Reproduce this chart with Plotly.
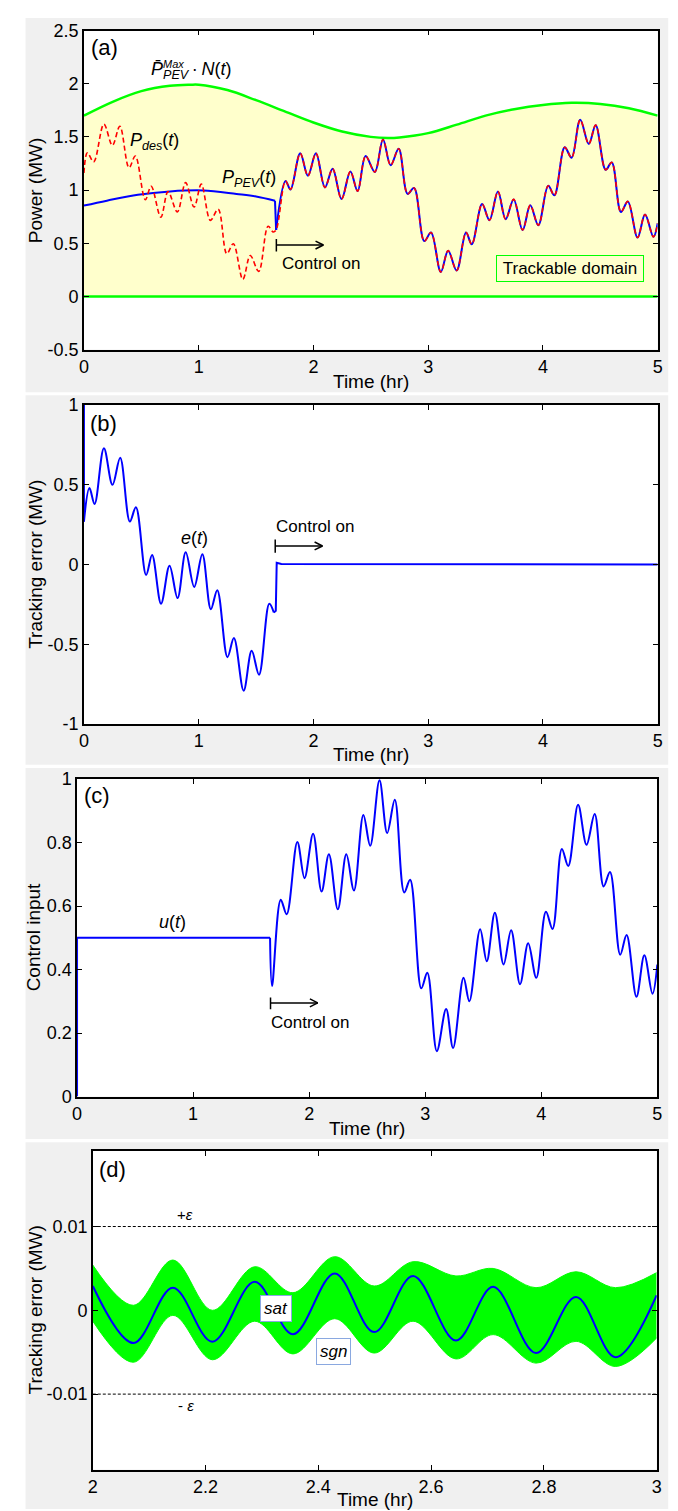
import plotly.graph_objects as go

W, H = 678, 1511
FONT = "Liberation Sans, Arial, sans-serif"

# ---------------- data ----------------
# panel (a)
t_upper = [0, 0.25, 0.5, 0.75, 0.93, 1.0, 1.25, 1.5, 1.75, 2.0, 2.25, 2.5, 2.65, 2.75,
           3.0, 3.25, 3.5, 3.75, 4.0, 4.25, 4.5, 4.75, 5.0]
p_upper = [1.70, 1.83, 1.93, 1.98, 1.99, 1.99, 1.94, 1.845, 1.74, 1.635, 1.55, 1.50, 1.49, 1.495,
           1.535, 1.615, 1.70, 1.76, 1.80, 1.82, 1.81, 1.77, 1.70]
t_zero = [0, 5]
p_zero = [0, 0]

t_pev_pre = [0, 0.2, 0.47, 0.75, 1.04, 1.33, 1.5, 1.665]
p_pev_pre = [0.854, 0.90, 0.956, 0.987, 0.996, 0.963, 0.94, 0.90]

t_des_pre = [0, 0.03, 0.085, 0.174, 0.248, 0.313, 0.393, 0.448, 0.535, 0.586, 0.67, 0.733,
             0.814, 0.886, 0.96, 1.023, 1.102, 1.17, 1.245, 1.302, 1.385, 1.45, 1.523, 1.605, 1.65]
p_des_pre = [1.16, 1.35, 1.265, 1.62, 1.42, 1.60, 1.21, 1.32, 0.91, 1.035, 0.745, 0.985,
             0.795, 1.07, 0.84, 1.056, 0.715, 0.82, 0.40, 0.495, 0.16, 0.385, 0.235, 0.66, 0.605]

t_track = [1.675, 1.757, 1.80, 1.885, 1.952, 2.022, 2.10, 2.167, 2.245, 2.322, 2.385, 2.455,
           2.535, 2.606, 2.673, 2.743, 2.821, 2.877, 2.966, 3.025, 3.11, 3.174, 3.248, 3.33,
           3.38, 3.47, 3.534, 3.608, 3.675, 3.745, 3.823, 3.89, 3.96, 4.046, 4.10, 4.19, 4.25,
           4.325, 4.40, 4.46, 4.547, 4.60, 4.68, 4.74, 4.825, 4.89, 4.963, 5.0]
p_track = [0.625, 1.085, 1.005, 1.345, 1.135, 1.345, 1.025, 1.20, 0.915, 1.175, 0.99, 1.32,
           1.17, 1.475, 1.233, 1.388, 0.964, 1.02, 0.52, 0.60, 0.23, 0.43, 0.243, 0.60,
           0.49, 0.868, 0.717, 0.986, 0.726, 0.912, 0.624, 0.856, 0.67, 1.04, 0.95, 1.403, 1.304,
           1.66, 1.434, 1.61, 1.19, 1.26, 0.794, 0.893, 0.553, 0.77, 0.56, 0.686]

# panel (b)
e_init_t = [0, 0]
e_init_v = [1.0, 0.27]
e_pre_t = [0.0, 0.048, 0.093, 0.174, 0.249, 0.316, 0.40, 0.453, 0.542, 0.594, 0.672, 0.746,
           0.816, 0.887, 0.961, 1.032, 1.106, 1.162, 1.251, 1.307, 1.392, 1.462, 1.526, 1.615, 1.655]
e_pre_v = [0.27, 0.48, 0.38, 0.73, 0.50, 0.67, 0.27, 0.36, -0.065, 0.06, -0.245, -0.007,
           -0.21, 0.077, -0.14, 0.065, -0.28, -0.16, -0.58, -0.46, -0.79, -0.54, -0.69, -0.245, -0.30]
e_post_t = [1.655, 1.672, 1.680, 1.72, 5.0]
e_post_v = [-0.30, -0.29, 0.012, 0.004, 0.0]

# panel (c)
u_pre_t = [0, 0, 1.663]
u_pre_v = [0, 0.5, 0.5]
u_post_t = [1.663, 1.68, 1.755, 1.806, 1.898, 1.96, 2.034, 2.107, 2.17, 2.247, 2.32, 2.386,
            2.467, 2.526, 2.606, 2.672, 2.738, 2.819, 2.87, 2.966, 3.018, 3.10, 3.18, 3.24,
            3.33, 3.38, 3.473, 3.53, 3.60, 3.675, 3.74, 3.817, 3.887, 3.957, 4.04, 4.097,
            4.177, 4.232, 4.317, 4.39, 4.46, 4.537, 4.592, 4.68, 4.735, 4.82, 4.888, 4.958, 5.0]
u_post_v = [0.5, 0.348, 0.62, 0.574, 0.802, 0.688, 0.828, 0.646, 0.763, 0.59, 0.763, 0.649,
            0.887, 0.79, 0.996, 0.83, 0.935, 0.643, 0.683, 0.341, 0.39, 0.143, 0.276, 0.153,
            0.374, 0.30, 0.527, 0.426, 0.579, 0.416, 0.524, 0.354, 0.483, 0.374, 0.582, 0.528,
            0.78, 0.726, 0.919, 0.793, 0.89, 0.662, 0.707, 0.447, 0.509, 0.314, 0.445, 0.324, 0.416]

# panel (d)
d_t = [2.0, 2.072, 2.142, 2.212, 2.287, 2.355, 2.429, 2.499, 2.568, 2.644, 2.71, 2.786,
       2.857, 2.927, 3.0]
sat_v = [0.0029, -0.0039, 0.0027, -0.00375, 0.0034, -0.00285, 0.0044, -0.0026, 0.0041,
         -0.0036, 0.0028, -0.0051, 0.0016, -0.0056, 0.0018]
sgn_upper = [0.0054, 0.0006, 0.0060, 0.0000, 0.0052, 0.0021, 0.0064, 0.0029, 0.0058,
             0.0041, 0.0050, 0.0027, 0.0046, 0.0027, 0.0045]
sgn_lower = [-0.0013, -0.0062, -0.0006, -0.0059, -0.0013, -0.0052, -0.0010, -0.0051, -0.0013,
             -0.0058, -0.0029, -0.0063, -0.0037, -0.0067, -0.0033]
eps_t = [2, 3]
eps = 0.01

# ---------------- layout helpers (pixels) ----------------
def px(x):
    return x / W


def py(y):
    return 1 - y / H


panels = {  # left, right, top, bottom  in pixels
    "a": (72, 654.3, 12.7, 336.0),
    "b": (72, 654.3, 392.3, 715.6),
    "c": (65, 654.0, 771.3, 1093.0),
    "d": (81, 653.3, 1148.3, 1471.0),
}
greys = [(12.7, 665, 0, 379.3), (12.7, 665, 382.3, 756.7),
         (12.7, 665, 760, 1136), (12.7, 665, 1139.3, 1511)]

BLUE = "#0000ff"
RED = "#ff0000"
GREEN = "#00ff00"
YEL = "#ffffcc"

fig = go.Figure()


def sp(x, y, ax, **kw):
    xa, ya = ax
    d = dict(x=x, y=y, mode="lines", xaxis=xa, yaxis=ya, hoverinfo="skip", showlegend=False)
    d.update(kw)
    fig.add_trace(go.Scatter(**d))


A = ("x", "y")
B = ("x2", "y2")
C = ("x3", "y3")
D = ("x4", "y4")

# panel a
sp(t_zero, p_zero, A, line=dict(color=GREEN, width=2.5))
sp(t_upper, p_upper, A, line=dict(color=GREEN, width=2.5, shape="spline"),
   fill="tonexty", fillcolor=YEL)
sp(t_pev_pre, p_pev_pre, A, line=dict(color=BLUE, width=2, shape="spline"))
sp([t_pev_pre[-1], t_track[0]], [p_pev_pre[-1], p_track[0]], A, line=dict(color=BLUE, width=2))
sp(t_track, p_track, A, line=dict(color=BLUE, width=2, shape="spline"))
sp(t_des_pre + t_track, p_des_pre + p_track, A,
   line=dict(color=RED, width=1.6, shape="spline", dash="5px,3px"))

# panel b
sp(e_init_t, e_init_v, B, line=dict(color=BLUE, width=2))
sp(e_pre_t, e_pre_v, B, line=dict(color=BLUE, width=2, shape="spline"))
sp(e_post_t, e_post_v, B, line=dict(color=BLUE, width=2))

# panel c
sp(u_pre_t, u_pre_v, C, line=dict(color=BLUE, width=2))
sp(u_post_t, u_post_v, C, line=dict(color=BLUE, width=2, shape="spline"))

# panel d
sp(d_t, sgn_lower, D, line=dict(color=GREEN, width=1, shape="spline"))
sp(d_t, sgn_upper, D, line=dict(color=GREEN, width=1, shape="spline"),
   fill="tonexty", fillcolor=GREEN)
sp(d_t, sat_v, D, line=dict(color=BLUE, width=2, shape="spline"))
sp(eps_t, [eps, eps], D, line=dict(color="black", width=1, dash="3px,2px"))
sp(eps_t, [-eps, -eps], D, line=dict(color="black", width=1, dash="3px,2px"))

# ---------------- axes ----------------
tickfont = dict(family=FONT, size=18, color="black")
common = dict(showline=True, linecolor="black", linewidth=1.5, mirror="ticks",
              ticks="inside", ticklen=5, tickwidth=1, tickcolor="black",
              showgrid=False, zeroline=False, tickfont=tickfont, fixedrange=True)

ranges = {
    "a": ([0, 5], [-0.5, 2.5], [0, 1, 2, 3, 4, 5], ["0", "1", "2", "3", "4", "5"],
          [-0.5, 0, 0.5, 1, 1.5, 2, 2.5], ["-0.5", "0", "0.5", "1", "1.5", "2", "2.5"]),
    "b": ([0, 5], [-1, 1], [0, 1, 2, 3, 4, 5], ["0", "1", "2", "3", "4", "5"],
          [-1, -0.5, 0, 0.5, 1], ["-1", "-0.5", "0", "0.5", "1"]),
    "c": ([0, 5], [0, 1], [0, 1, 2, 3, 4, 5], ["0", "1", "2", "3", "4", "5"],
          [0, 0.2, 0.4, 0.6, 0.8, 1], ["0", "0.2", "0.4", "0.6", "0.8", "1"]),
    "d": ([2, 3], [-0.019, 0.019], [2, 2.2, 2.4, 2.6, 2.8, 3], ["2", "2.2", "2.4", "2.6", "2.8", "3"],
          [-0.01, 0, 0.01], ["-0.01", "0", "0.01"]),
}

layout = dict(width=W, height=H, margin=dict(l=0, r=0, t=0, b=0),
              paper_bgcolor="white", plot_bgcolor="rgba(0,0,0,0)", showlegend=False,
              font=dict(family=FONT, color="black"))
for i, k in enumerate("abcd"):
    l, r, t, b = panels[k]
    xr, yr, xtv, xtt, ytv, ytt = ranges[k]
    sx = "" if i == 0 else str(i + 1)
    layout["xaxis" + sx] = dict(common, domain=[px(l), px(r)], range=xr, anchor="y" + sx,
                                tickvals=xtv, ticktext=xtt)
    layout["yaxis" + sx] = dict(common, domain=[py(b), py(t)], range=yr, anchor="x" + sx,
                                tickvals=ytv, ticktext=ytt)

shapes = []
for (l, r, t, b) in greys:
    shapes.append(dict(type="rect", xref="paper", yref="paper", x0=px(l), x1=px(r),
                       y0=py(b), y1=py(t), fillcolor="#f0f0f0", line=dict(width=0), layer="below"))
for k in "abcd":
    l, r, t, b = panels[k]
    shapes.append(dict(type="rect", xref="paper", yref="paper", x0=px(l), x1=px(r),
                       y0=py(b), y1=py(t), fillcolor="white", line=dict(width=0), layer="below"))


def arrow(xr, yr, x0, x1, y, ylo, yhi, ppx, ppy):
    hx, hy = 8 / ppx, 4 / ppy
    ln = dict(color="black", width=1.5)
    return [
        dict(type="line", xref=xr, yref=yr, x0=x0, x1=x0, y0=ylo, y1=yhi, line=ln),
        dict(type="line", xref=xr, yref=yr, x0=x0, x1=x1, y0=y, y1=y, line=ln),
        dict(type="line", xref=xr, yref=yr, x0=x1 - hx, x1=x1, y0=y + hy, y1=y, line=ln),
        dict(type="line", xref=xr, yref=yr, x0=x1 - hx, x1=x1, y0=y - hy, y1=y, line=ln),
    ]


shapes += arrow("x", "y", 1.677, 2.087, 0.483, 0.421, 0.539, 116.46, 107.8)
shapes += arrow("x2", "y2", 1.667, 2.079, 0.117, 0.075, 0.158, 116.46, 161.65)
shapes += arrow("x3", "y3", 1.667, 2.074, 0.295, 0.275, 0.312, 117.8, 321.7)
layout["shapes"] = shapes

ann = []


def A_(text, x, y, xref, yref, size=18, xanchor="center", yanchor="middle", **kw):
    d = dict(text=text, x=x, y=y, xref=xref, yref=yref, showarrow=False,
             xanchor=xanchor, yanchor=yanchor, font=dict(family=FONT, size=size, color="black"))
    d.update(kw)
    ann.append(d)


# panel labels
A_("(a)", 0.04, 2.341, "x", "y", size=22, xanchor="left")
A_("(b)", 0.034, 0.887, "x2", "y2", size=22, xanchor="left")
A_("(c)", 0.042, 0.948, "x3", "y3", size=22, xanchor="left")
A_("(d)", 2.008, 0.0168, "x4", "y4", size=22, xanchor="left")

# panel a texts
A_("<i>P\u0304</i><sub><i>PEV</i></sub>\u2009\u00b7\u2009<i>N</i>(<i>t</i>)", 0.564, 2.125, "x", "y",
   xanchor="left")
A_("<i>Max</i>", 0.672, 2.185, "x", "y", size=11, xanchor="left")
A_("<i>P</i><sub><i>des</i></sub>(<i>t</i>)", 0.384, 1.457, "x", "y", xanchor="left")
A_("<i>P</i><sub><i>PEV</i></sub>(<i>t</i>)", 1.19, 1.105, "x", "y", xanchor="left")
A_("Control on", 1.706, 0.312, "x", "y", size=17, xanchor="left")
A_("Trackable domain", 4.235, 0.265, "x", "y", size=17, bgcolor=YEL, bordercolor=GREEN,
   borderwidth=1, borderpad=2, width=142, height=21)

# panel b texts
A_("<i>e</i>(<i>t</i>)", 0.96, 0.169, "x2", "y2")
A_("Control on", 1.66, 0.241, "x2", "y2", size=17, xanchor="left")

# panel c texts
A_("<i>u</i>(<i>t</i>)", 0.82, 0.551, "x3", "y3")
A_("Control on", 1.652, 0.234, "x3", "y3", size=17, xanchor="left")

# panel d texts
A_("+<i>\u03b5</i>", 2.163, 0.0114, "x4", "y4", size=15)
A_("- <i>\u03b5</i>", 2.166, -0.0113, "x4", "y4", size=15)
A_("<i>sat</i>", 2.3245, 0.00024, "x4", "y4", size=17, bgcolor="white", bordercolor="#8aa8e0",
   borderwidth=1, borderpad=3)
A_("<i>sgn</i>", 2.4275, -0.00487, "x4", "y4", size=17, bgcolor="white", bordercolor="#8aa8e0",
   borderwidth=1, borderpad=3)

# axis titles
xt = [(363, 368), (363, 746.7), (359.5, 1125.7), (367, 1501.7)]
ytl = [("Power (MW)", 22.5, 174.4), ("Tracking error (MW)", 22.5, 554),
       ("Control input", 21, 932), ("Tracking error (MW)", 22.5, 1309.6)]
for (x, y) in xt:
    A_("Time (hr)", px(x), py(y), "paper", "paper", size=19)
for (s, x, y) in ytl:
    A_(s, px(x), py(y), "paper", "paper", size=19, textangle=-90)

layout["annotations"] = ann
fig.update_layout(**layout)
fig.write_html("out.html")
